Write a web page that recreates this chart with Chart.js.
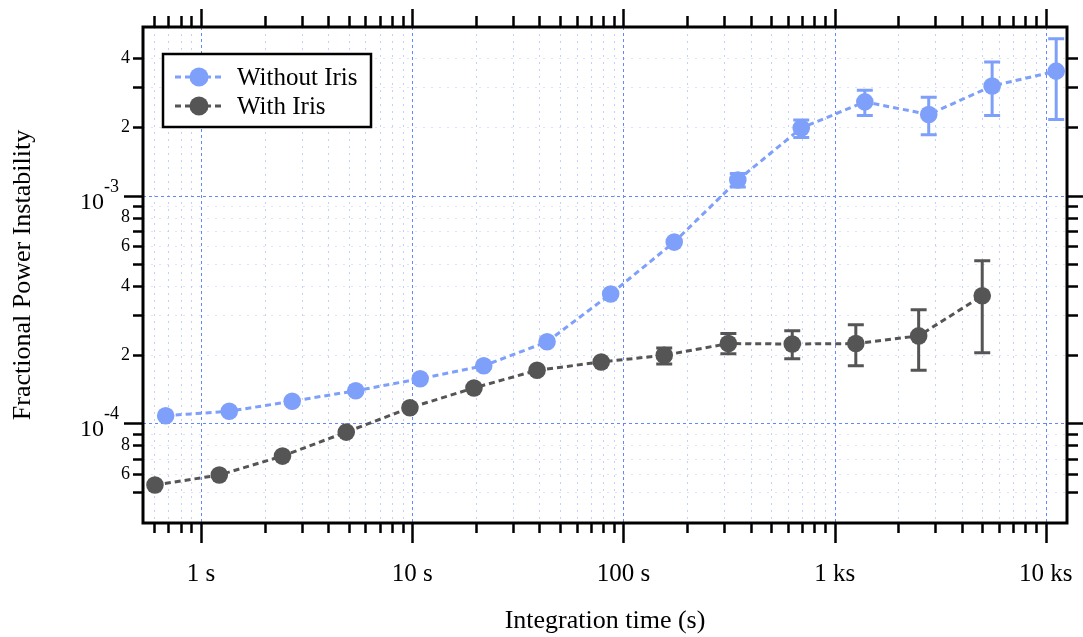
<!DOCTYPE html>
<html>
<head>
<meta charset="utf-8">
<script src="https://cdn.jsdelivr.net/npm/chart.js@4.4.1/dist/chart.umd.min.js"></script>
<style>
  html, body { margin: 0; padding: 0; background: #fff; }
  #wrap { width: 1083px; height: 637px; }
</style>
</head>
<body>
<div id="wrap"><canvas id="chart" width="1083" height="637"></canvas></div>
<script>
/* Fractional power instability vs integration time (log-log, with error bars) */

const SERIF = '"Liberation Serif", "Times New Roman", Times, serif';
const BLUE = 'rgb(126,160,250)';
const GREY = 'rgb(85,85,85)';

// --- data ---
const timeWithout = [0.68, 1.36, 2.7, 5.4, 10.9, 21.8, 43.5, 87, 174, 348, 695, 1390, 2790, 5570, 11200];
const valWithout  = [1.08e-4, 1.13e-4, 1.25e-4, 1.39e-4, 1.57e-4, 1.79e-4, 2.28e-4, 3.70e-4, 6.25e-4,
                     1.17e-3, 1.98e-3, 2.58e-3, 2.27e-3, 3.03e-3, 3.52e-3];
const errLoWithout = [null, null, null, null, null, null, null, null, null,
                      1.09e-3, 1.80e-3, 2.25e-3, 1.85e-3, 2.25e-3, 2.16e-3];
const errHiWithout = [null, null, null, null, null, null, null, null, null,
                      1.25e-3, 2.15e-3, 2.90e-3, 2.70e-3, 3.86e-3, 4.89e-3];

const timeWith = [0.605, 1.22, 2.43, 4.87, 9.75, 19.6, 39, 78.5, 156, 314, 630, 1260, 2500, 5000];
const valWith  = [5.36e-5, 5.93e-5, 7.18e-5, 9.15e-5, 1.17e-4, 1.43e-4, 1.71e-4, 1.86e-4,
                  1.99e-4, 2.24e-4, 2.23e-4, 2.24e-4, 2.42e-4, 3.63e-4];
const errLoWith = [null, null, null, null, null, null, null, null,
                   1.82e-4, 2.02e-4, 1.92e-4, 1.79e-4, 1.71e-4, 2.04e-4];
const errHiWith = [null, null, null, null, null, null, null, null,
                   2.14e-4, 2.48e-4, 2.55e-4, 2.71e-4, 3.15e-4, 5.18e-4];

// --- axes ---
const xRange = [0.531, 12600];
const yRange = [3.65e-5, 5.5e-3];

const xTicks = [0.6, 0.7, 0.8, 0.9,
                1, 2, 3, 4, 5, 6, 7, 8, 9,
                10, 20, 30, 40, 50, 60, 70, 80, 90,
                100, 200, 300, 400, 500, 600, 700, 800, 900,
                1000, 2000, 3000, 4000, 5000, 6000, 7000, 8000, 9000,
                10000];
const xDecades = [1, 10, 100, 1000, 10000];
const xDecadeLabels = ['1 s', '10 s', '100 s', '1 ks', '10 ks'];

const yTicks = [5e-5, 6e-5, 7e-5, 8e-5, 9e-5,
                1e-4, 2e-4, 3e-4, 4e-4, 5e-4, 6e-4, 7e-4, 8e-4, 9e-4,
                1e-3, 2e-3, 3e-3, 4e-3];
const yTickLabels = ['', '6', '', '8', '',
                     '', '2', '', '4', '', '6', '', '8', '',
                     '', '2', '', '4'];
const yDecades = [1e-4, 1e-3];
const yDecadeExp = ['-4', '-3'];

function isDecade(v, list) {
    return list.some(d => Math.abs(v / d - 1) < 1e-6);
}

// --- plugins ---
const dottedGrid = {
    id: 'dottedGrid',
    beforeDatasetsDraw(chart) {
        const { ctx, chartArea: a } = chart;
        const xs = chart.scales.x, ys = chart.scales.y;
        ctx.save();
        ctx.lineWidth = 1;
        // minor lines first, decades on top
        [false, true].forEach(major => {
            ctx.strokeStyle = major ? 'rgb(100,135,255)' : 'rgba(170,188,250,0.7)';
            ctx.setLineDash(major ? [3, 3] : [2, 5]);
            ctx.beginPath();
            xTicks.forEach(v => {
                if (isDecade(v, xDecades) !== major) return;
                const px = Math.round(xs.getPixelForValue(v)) + 0.5;
                ctx.moveTo(px, a.top); ctx.lineTo(px, a.bottom);
            });
            ctx.stroke();
            ctx.strokeStyle = major ? 'rgb(100,135,255)' : 'rgba(190,205,250,0.55)';
            ctx.setLineDash(major ? [3, 3] : [2, 6]);
            ctx.beginPath();
            yTicks.forEach(v => {
                if (isDecade(v, yDecades) !== major) return;
                const py = Math.round(ys.getPixelForValue(v)) + 0.5;
                ctx.moveTo(a.left, py); ctx.lineTo(a.right, py);
            });
            ctx.stroke();
        });
        ctx.restore();
    }
};

const errorBars = {
    id: 'errorBars',
    afterDatasetsDraw(chart) {
        const { ctx } = chart;
        const yScale = chart.scales.y;
        const sets = [[errLoWithout, errHiWithout], [errLoWith, errHiWith]];
        ctx.save();
        sets.forEach(([lo, hi], di) => {
            const meta = chart.getDatasetMeta(di);
            ctx.strokeStyle = chart.data.datasets[di].borderColor;
            ctx.lineWidth = 3;
            meta.data.forEach((pt, i) => {
                if (lo[i] == null) return;
                const y1 = yScale.getPixelForValue(lo[i]);
                const y2 = yScale.getPixelForValue(hi[i]);
                ctx.beginPath();
                ctx.moveTo(pt.x, y1); ctx.lineTo(pt.x, y2);
                ctx.moveTo(pt.x - 8, y1); ctx.lineTo(pt.x + 8, y1);
                ctx.moveTo(pt.x - 8, y2); ctx.lineTo(pt.x + 8, y2);
                ctx.stroke();
            });
        });
        ctx.restore();
    }
};

const frameAxes = {
    id: 'frameAxes',
    afterDraw(chart) {
        const { ctx, chartArea: a } = chart;
        const xs = chart.scales.x, ys = chart.scales.y;
        ctx.save();
        ctx.strokeStyle = '#000';
        ctx.lineWidth = 3;
        ctx.strokeRect(a.left, a.top, a.right - a.left, a.bottom - a.top);

        ctx.lineWidth = 2.5;
        ctx.beginPath();
        xTicks.forEach(v => {
            const px = Math.round(xs.getPixelForValue(v)) + 0.5;
            const major = isDecade(v, xDecades);
            ctx.moveTo(px, a.bottom); ctx.lineTo(px, a.bottom + (major ? 20 : 10));
            ctx.moveTo(px, a.top); ctx.lineTo(px, a.top - (major ? 18 : 11));
        });
        yTicks.forEach(v => {
            const py = Math.round(ys.getPixelForValue(v)) + 0.5;
            const major = isDecade(v, yDecades);
            ctx.moveTo(a.left, py); ctx.lineTo(a.left - (major ? 19 : 10), py);
            ctx.moveTo(a.right, py); ctx.lineTo(a.right + (major ? 16 : 11), py);
        });
        ctx.stroke();

        // decade labels on the y axis with superscript exponent
        ctx.fillStyle = '#000';
        ctx.textBaseline = 'alphabetic';
        yDecades.forEach((v, i) => {
            const py = ys.getPixelForValue(v);
            ctx.font = `24px ${SERIF}`;
            ctx.textAlign = 'right';
            ctx.fillText('10', 104, py + 13);
            ctx.font = `18px ${SERIF}`;
            ctx.textAlign = 'left';
            ctx.fillText(yDecadeExp[i], 104, py - 4);
        });
        ctx.restore();
    }
};

const boxLegend = {
    id: 'boxLegend',
    afterDraw(chart) {
        const { ctx, chartArea: a } = chart;
        const x0 = a.left + 20, y0 = a.top + 27, w = 208, h = 73;
        ctx.save();
        ctx.fillStyle = '#fff';
        ctx.fillRect(x0, y0, w, h);
        ctx.strokeStyle = '#000';
        ctx.lineWidth = 2.5;
        ctx.strokeRect(x0, y0, w, h);
        chart.data.datasets.forEach((ds, i) => {
            const cy = y0 + 23 + i * 29;
            ctx.strokeStyle = ds.borderColor;
            ctx.lineWidth = 3;
            ctx.setLineDash([6, 4]);
            ctx.beginPath();
            ctx.moveTo(x0 + 12, cy); ctx.lineTo(x0 + 60, cy);
            ctx.stroke();
            ctx.setLineDash([]);
            ctx.fillStyle = ds.borderColor;
            ctx.beginPath();
            ctx.arc(x0 + 36, cy, 9.5, 0, Math.PI * 2);
            ctx.fill();
            ctx.fillStyle = '#000';
            ctx.font = `25px ${SERIF}`;
            ctx.textAlign = 'left';
            ctx.textBaseline = 'alphabetic';
            ctx.fillText(ds.label, x0 + 74, cy + 8);
        });
        ctx.restore();
    }
};

const ctx = document.getElementById('chart');
new Chart(ctx, {
    type: 'line',
    data: {
        datasets: [
            {
                label: 'Without Iris',
                data: timeWithout.map((t, i) => ({ x: t, y: valWithout[i] })),
                borderColor: BLUE,
                backgroundColor: BLUE,
                borderWidth: 3,
                borderDash: [6, 4],
                pointRadius: 8.8,
                pointBorderWidth: 0,
                pointBackgroundColor: BLUE,
                tension: 0
            },
            {
                label: 'With Iris',
                data: timeWith.map((t, i) => ({ x: t, y: valWith[i] })),
                borderColor: GREY,
                backgroundColor: GREY,
                borderWidth: 3,
                borderDash: [6, 4],
                pointRadius: 8.8,
                pointBorderWidth: 0,
                pointBackgroundColor: GREY,
                tension: 0
            }
        ]
    },
    options: {
        responsive: false,
        animation: false,
        layout: { padding: { left: 0, right: 16, top: 27, bottom: 0 } },
        plugins: {
            legend: { display: false },
            tooltip: { enabled: false }
        },
        scales: {
            x: {
                type: 'logarithmic',
                position: 'bottom',
                min: xRange[0],
                max: xRange[1],
                afterBuildTicks: (s) => { s.ticks = xTicks.map(v => ({ value: v })); },
                afterFit: (s) => { s.height = 114; s.paddingLeft = 0; s.paddingRight = 0; },
                grid: { display: false, drawTicks: false },
                border: { display: false },
                ticks: {
                    autoSkip: false,
                    maxRotation: 0,
                    minRotation: 0,
                    padding: 36,
                    color: '#000',
                    font: { family: SERIF, size: 25 },
                    callback: (v) => {
                        const k = xDecades.findIndex(d => Math.abs(v / d - 1) < 1e-6);
                        return k >= 0 ? xDecadeLabels[k] : '';
                    }
                },
                title: {
                    display: true,
                    text: 'Integration time (s)',
                    color: '#000',
                    font: { family: SERIF, size: 26, lineHeight: 1.2 },
                    padding: { top: 0, bottom: 0 }
                }
            },
            y: {
                type: 'logarithmic',
                position: 'left',
                min: yRange[0],
                max: yRange[1],
                afterBuildTicks: (s) => { s.ticks = yTicks.map(v => ({ value: v })); },
                afterFit: (s) => { s.width = 143; s.paddingTop = 0; s.paddingBottom = 0; },
                grid: { display: false, drawTicks: false },
                border: { display: false },
                ticks: {
                    autoSkip: false,
                    padding: 13,
                    color: '#000',
                    font: { family: SERIF, size: 18 },
                    callback: (v, i) => yTickLabels[i]
                },
                title: {
                    display: true,
                    text: 'Fractional Power Instability',
                    color: '#000',
                    font: { family: SERIF, size: 26, lineHeight: 1.2 },
                    padding: { top: 8, bottom: 0 }
                }
            }
        }
    },
    plugins: [dottedGrid, errorBars, frameAxes, boxLegend]
});
</script>
</body>
</html>
